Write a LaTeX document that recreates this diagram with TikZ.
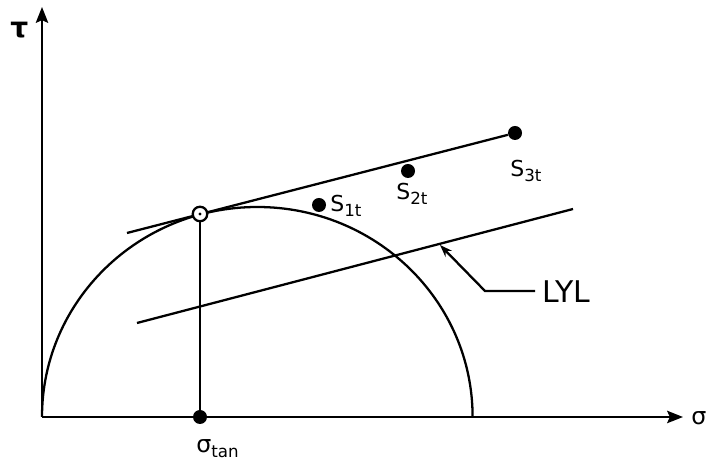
\documentclass[tikz,border=0pt]{standalone}
\usepackage{fontspec}
\setmainfont{DejaVu Sans}
\usetikzlibrary{arrows.meta,positioning}
\newcommand{\sublbl}[2]{#1\raisebox{-2.8pt}{\fontsize{9.5}{11}\selectfont #2}}
\tikzset{
    every node/.style={font=\fontsize{12.5}{15}\selectfont, inner sep=0pt},
    axisline/.style={
        -{Stealth[length=9pt,width=7pt,inset=1.5pt]}, line width=1.3pt
    },
    mohrline/.style={line width=1.3pt},
    stressdot/.style={
        circle, fill=black, minimum size=0.28cm, inner sep=0pt
    },
    tanmark/.style={
        circle, draw=black, fill=white, line width=1.3pt,
        minimum size=0.29cm, inner sep=0pt
    },
    callout/.style={
        -{Stealth[length=7pt,width=5pt]}, line width=1.3pt
    },
}
\begin{document}
\begin{tikzpicture}[x=0.02cm, y=0.02cm]
    \useasboundingbox (0,0) rectangle (706,462);

    % Axes
    \coordinate (O) at (42,45);
    \coordinate (xend) at (683,45);
    \coordinate (yend) at (42,455);
    \draw[axisline] (O) -- (xend);
    \draw[axisline] (O) -- (yend);
    \node[anchor=base west, font=\fontsize{13.5}{16}\selectfont] (sig) at (691,37) {σ};
    \node[anchor=base west, font=\bfseries\fontsize{16}{18}\selectfont] (tau) at (10,424) {τ};

    % Mohr circle
    \draw[mohrline] (O) arc[start angle=180, end angle=0, x radius=215.3, y radius=210];

    % Tangent line through stress states
    \coordinate (tl) at (127,229);
    \node[stressdot] (s3) at (515,329) {};
    \node[stressdot] (s2) at (408,291) {};
    \node[stressdot] (s1) at (319,257) {};
    \draw[mohrline] (tl) -- (s3);
    \node[anchor=base west] (s1lbl) at (330,250) {\sublbl{S}{1t}};
    \node[anchor=base west] (s2lbl) at (396,262) {\sublbl{S}{2t}};
    \node[anchor=base west] (s3lbl) at (510,285) {\sublbl{S}{3t}};

    % LYL line
    \coordinate (lyl1) at (137,139);
    \coordinate (lyl2) at (573,253);
    \draw[mohrline] (lyl1) -- (lyl2);
    \node[anchor=base west, font=\fontsize{17}{20}\selectfont] (lyl) at (542,159) {LYL};
    \coordinate (lyltail) at (535,171);
    \coordinate (lylbend) at (485,171);
    \coordinate (lyltip) at (440,217);
    \draw[callout] (lyltail) -- (lylbend) -- (lyltip);

    % Tangent point
    \node[stressdot] (sigtan) at (200,45) {};
    \node[tanmark] (tan) at (200,248) {};
    \fill (tan.center) circle[radius=1.7];
    \draw[mohrline] (tan) -- (sigtan);
    \node[anchor=base west, font=\fontsize{13.5}{16}\selectfont] (sigtanlbl) at (196,9) {\sublbl{σ}{tan}};
\end{tikzpicture}
\end{document}
